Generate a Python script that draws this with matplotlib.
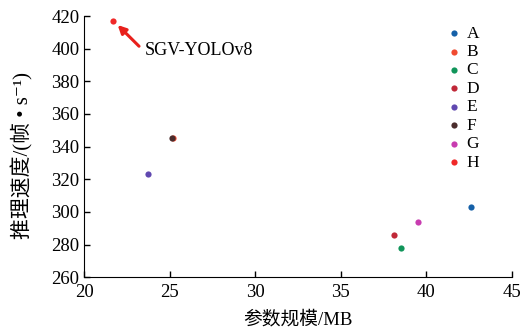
import matplotlib.pyplot as plt

plt.rcParams['font.family'] = ['Liberation Serif', 'Noto Sans CJK SC', 'DejaVu Sans']

names = ["A", "B", "C", "D", "E", "F", "G", "H"]
size_mb = [42.6, 25.2, 38.5, 38.1, 23.7, 25.1, 39.5, 21.7]
fps = [303, 345, 278, 286, 323, 345, 294, 417]
colors = ["#1560a8", "#f04a30", "#10955a", "#c02838", "#6048b0", "#4a2c2c", "#c83cb0", "#f02828"]

fig = plt.figure(figsize=(5.27, 3.34), dpi=100)
ax = fig.add_axes([0.160, 0.170, 0.811, 0.782])

for n, x, y, c in zip(names, size_mb, fps, colors):
  ax.scatter(x, y, s=20, color=c, label=n, zorder=3, linewidths=0)

# label + arrow pointing at our model
ax.text(23.55, 399, "SGV-YOLOv8", fontsize=13, va="center", ha="left")
ax.annotate("", xy=(21.95, 414.5), xytext=(23.2, 401.5),
            arrowprops=dict(arrowstyle="-|>", color="#e8201c", lw=2.2,
                            mutation_scale=12, shrinkA=0, shrinkB=0))

ax.set_xlim(20, 45)
ax.set_ylim(260, 420)
ax.set_xticks([20, 25, 30, 35, 40, 45])
ax.set_yticks(range(260, 421, 20))
ax.tick_params(direction="in", length=4, labelsize=13.5, width=1)
ax.tick_params(axis="x", pad=5)
for s in ["top", "right"]:
  ax.spines[s].set_visible(False)
ax.set_xlabel("参数规模/MB", fontsize=13.5, labelpad=7)
ax.set_ylabel("推理速度/(帧 • s⁻¹)", fontsize=15)
ax.yaxis.set_label_coords(-0.12, 0.465)

ax.legend(loc="upper left", bbox_to_anchor=(0.821, 0.997), frameon=False,
          fontsize=12.5, handletextpad=0.1, labelspacing=0.13, borderpad=0,
          handlelength=1.2)

plt.savefig("out.png")
plt.close()
